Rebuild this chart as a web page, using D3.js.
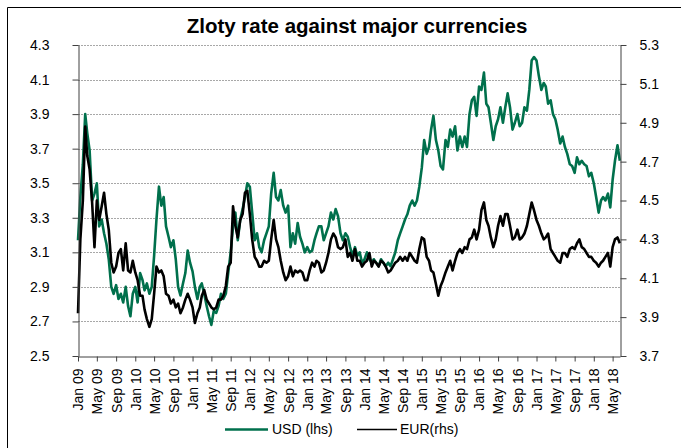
<!DOCTYPE html>
<html>
<head>
<meta charset="utf-8">
<script src="https://cdn.jsdelivr.net/npm/d3@7"></script>
<style>
  body { margin: 0; background: #fff; }
  svg text { font-family: Arial, "Liberation Sans", sans-serif; fill: #000; }
</style>
</head>
<body>
<svg id="chart" width="681" height="448"></svg>
<script>
// semi-monthly readings (1st and 16th of each month), starting Jan 2009
const firstYear = 2009;

const usd = [
  3.17,3.42,3.61,3.90,3.79,3.69,3.40,3.44,3.50,3.25,3.29,3.21,3.15,3.06,2.90,2.86,2.91,2.83,2.86,2.81,2.90,2.79,2.73,2.86,
  2.90,2.81,2.98,2.94,2.88,2.92,2.86,2.90,3.08,3.29,3.48,3.37,3.42,3.25,3.19,3.13,3.17,3.06,2.90,2.85,2.92,2.98,3.11,3.04,
  2.99,2.90,2.83,2.90,2.92,2.86,2.79,2.73,2.68,2.76,2.75,2.79,2.86,2.83,2.86,2.98,3.10,3.25,3.33,3.17,3.29,3.35,3.42,3.50,
  3.48,3.33,3.17,3.21,3.13,3.10,3.17,3.21,3.25,3.44,3.56,3.42,3.40,3.46,3.37,3.33,3.37,3.13,3.21,3.15,3.27,3.19,3.15,3.10,
  3.13,3.10,3.11,3.17,3.21,3.25,3.25,3.17,3.21,3.25,3.33,3.29,3.35,3.31,3.21,3.17,3.21,3.19,3.13,3.08,3.13,3.08,3.10,3.04,
  3.06,3.10,3.06,3.04,3.06,3.04,3.02,3.06,3.04,3.02,3.04,3.02,3.06,3.10,3.17,3.21,3.25,3.29,3.32,3.37,3.40,3.37,3.40,3.48,
  3.59,3.75,3.67,3.71,3.81,3.89,3.75,3.69,3.60,3.58,3.75,3.71,3.81,3.77,3.83,3.69,3.77,3.71,3.77,3.71,3.90,3.98,4.00,3.89,
  4.06,4.04,4.14,3.96,3.94,3.85,3.75,3.83,3.87,3.94,3.85,3.94,4.02,3.94,3.81,3.85,3.90,3.83,3.85,3.94,3.92,4.04,4.21,4.23,
  4.21,4.12,4.04,4.08,4.06,3.96,3.98,3.90,3.87,3.81,3.73,3.77,3.71,3.67,3.61,3.60,3.56,3.65,3.61,3.63,3.61,3.60,3.54,3.56,
  3.50,3.42,3.33,3.40,3.42,3.40,3.44,3.36,3.52,3.63,3.72,3.63
];

const eur = [
  3.92,4.30,4.50,4.88,4.73,4.66,4.49,4.26,4.50,4.40,4.47,4.54,4.43,4.35,4.18,4.13,4.16,4.23,4.25,4.14,4.28,4.14,4.13,4.19,
  4.13,4.09,4.01,4.01,3.94,3.89,3.85,3.89,4.02,4.16,4.13,4.14,4.11,4.02,4.01,3.97,3.99,3.95,3.97,3.92,3.95,3.99,4.02,3.99,
  3.95,3.87,3.92,3.95,4.01,4.04,3.99,3.97,3.95,3.94,3.95,3.99,3.99,4.01,4.06,4.16,4.18,4.47,4.37,4.31,4.40,4.43,4.54,4.55,
  4.43,4.30,4.21,4.19,4.16,4.16,4.19,4.18,4.19,4.30,4.40,4.30,4.26,4.19,4.13,4.09,4.11,4.16,4.11,4.14,4.13,4.14,4.13,4.09,
  4.09,4.14,4.18,4.16,4.19,4.18,4.13,4.14,4.18,4.23,4.30,4.33,4.31,4.26,4.25,4.26,4.30,4.21,4.23,4.19,4.25,4.19,4.19,4.16,
  4.18,4.19,4.23,4.16,4.19,4.18,4.16,4.19,4.18,4.16,4.13,4.14,4.16,4.18,4.19,4.21,4.19,4.21,4.19,4.23,4.21,4.19,4.18,4.25,
  4.31,4.30,4.21,4.19,4.14,4.13,4.07,4.01,4.06,4.09,4.13,4.16,4.19,4.14,4.19,4.23,4.25,4.23,4.26,4.25,4.30,4.31,4.35,4.30,
  4.35,4.45,4.49,4.40,4.37,4.31,4.26,4.30,4.37,4.42,4.37,4.43,4.43,4.37,4.30,4.31,4.35,4.30,4.31,4.33,4.37,4.43,4.49,4.45,
  4.40,4.37,4.33,4.30,4.31,4.33,4.25,4.23,4.21,4.19,4.18,4.23,4.23,4.21,4.25,4.26,4.25,4.28,4.30,4.26,4.25,4.23,4.21,4.21,
  4.19,4.18,4.16,4.18,4.19,4.21,4.23,4.16,4.26,4.30,4.31,4.28
];

const leftTicks = [2.5, 2.7, 2.9, 3.1, 3.3, 3.5, 3.7, 3.9, 4.1, 4.3];
const rightTicks = [3.7, 3.9, 4.1, 4.3, 4.5, 4.7, 4.9, 5.1, 5.3];

const title = "Zloty rate against major currencies";
const usdName = "USD (lhs)";
const eurName = "EUR(rhs)";

const green = "#00704c";

function dateAt(i) {
  return new Date(firstYear + Math.floor(i / 24), Math.floor((i % 24) / 2), i % 2 ? 16 : 1);
}

const svg = d3.select("#chart");

// outer frame (only top and left edges fall inside the picture)
svg.append("path")
  .attr("d", "M7.5,448V7.5H681")
  .attr("fill", "none")
  .attr("stroke", "#000");

const plotLeft = 78, plotRight = 620, plotTop = 45, plotBottom = 356;

const x = d3.scaleTime()
  .domain([new Date(2009, 0, 1), new Date(2018, 5, 17)])
  .range([plotLeft, plotRight]);
const yL = d3.scaleLinear().domain([2.5, 4.3]).range([plotBottom, plotTop]);
const yR = d3.scaleLinear().domain([3.7, 5.3]).range([plotBottom, plotTop]);

// gridlines
svg.append("g")
  .selectAll("line")
  .data(leftTicks.slice(1))
  .enter()
  .append("line")
  .attr("x1", plotLeft)
  .attr("x2", plotRight)
  .attr("y1", d => Math.round(yL(d)) + 0.5)
  .attr("y2", d => Math.round(yL(d)) + 0.5)
  .attr("stroke", "#a8a8a8")
  .attr("stroke-dasharray", "2,1");

// series
const usdLine = d3.line()
  .x((d, i) => x(dateAt(i)))
  .y(d => yL(d));
const eurLine = d3.line()
  .x((d, i) => x(dateAt(i)))
  .y(d => yR(d));

svg.append("path")
  .datum(usd)
  .attr("d", usdLine)
  .attr("fill", "none")
  .attr("stroke", green)
  .attr("stroke-width", 2.6)
  .attr("stroke-linejoin", "round");

svg.append("path")
  .datum(eur)
  .attr("d", eurLine)
  .attr("fill", "none")
  .attr("stroke", "#000")
  .attr("stroke-width", 2.6)
  .attr("stroke-linejoin", "round");

// axes
const axisColor = "#404040";

const xTicks = d3.timeMonth.every(4).range(new Date(2009, 0, 1), new Date(2018, 5, 2));
const xAxis = svg.append("g")
  .attr("transform", `translate(0,${plotBottom + 0.5})`)
  .call(d3.axisBottom(x).tickValues(xTicks).tickFormat(d3.timeFormat("%b %y")).tickSize(5).tickSizeOuter(0));
xAxis.selectAll("text")
  .attr("transform", "rotate(-90)")
  .attr("text-anchor", "end")
  .attr("x", -12)
  .attr("y", 0)
  .attr("dy", "0.35em")
  .style("font-size", "14px");

const yAxisL = svg.append("g")
  .attr("transform", `translate(${plotLeft + 0.5},0)`)
  .call(d3.axisLeft(yL).tickValues(leftTicks).tickFormat(d3.format(".1f")).tickSize(6).tickSizeOuter(0).tickPadding(23));
yAxisL.selectAll("text").style("font-size", "14px");

const yAxisR = svg.append("g")
  .attr("transform", `translate(${plotRight + 0.5},0)`)
  .call(d3.axisRight(yR).tickValues(rightTicks).tickFormat(d3.format(".1f")).tickSize(6).tickSizeOuter(0).tickPadding(13));
yAxisR.selectAll("text").style("font-size", "14px");

svg.selectAll(".domain, .tick line").attr("stroke", axisColor);
svg.selectAll(".tick text").attr("fill", "#000");

// title
svg.append("text")
  .attr("x", 357)
  .attr("y", 33)
  .attr("text-anchor", "middle")
  .style("font-size", "20.5px")
  .style("font-weight", "bold")
  .text(title);

// legend
const legend = svg.append("g");
legend.append("line")
  .attr("x1", 225).attr("x2", 268)
  .attr("y1", 429.5).attr("y2", 429.5)
  .attr("stroke", green).attr("stroke-width", 2.4);
legend.append("text")
  .attr("x", 272).attr("y", 429).attr("dy", "0.35em")
  .style("font-size", "14px")
  .text(usdName);
legend.append("line")
  .attr("x1", 357).attr("x2", 397)
  .attr("y1", 429.5).attr("y2", 429.5)
  .attr("stroke", "#000").attr("stroke-width", 1.5);
legend.append("text")
  .attr("x", 400).attr("y", 429).attr("dy", "0.35em")
  .style("font-size", "14px")
  .text(eurName);
</script>
</body>
</html>
